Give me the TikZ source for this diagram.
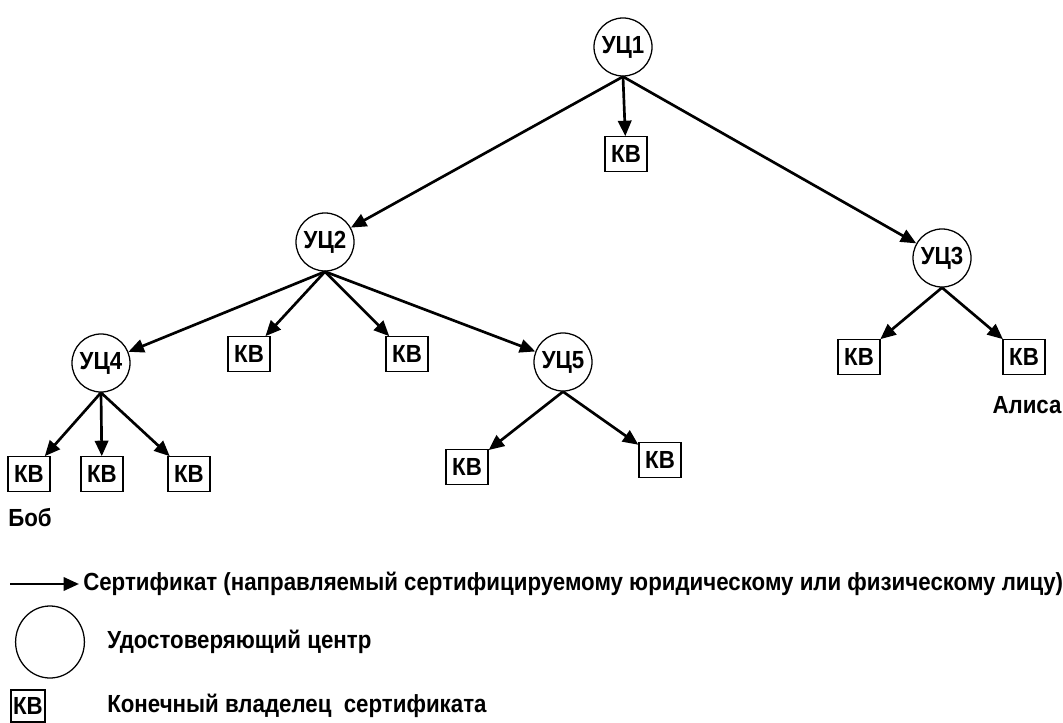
\documentclass[tikz,border=0pt]{standalone}
\usepackage{fontspec}
\setmainfont{Liberation Sans}[FakeStretch=0.9]
\usetikzlibrary{arrows.meta,shapes.geometric}
\begin{document}
\begin{tikzpicture}[x=0.025cm,y=-0.025cm,
  txt/.style={font=\fontsize{17.6}{20}\selectfont\bfseries},
  uc/.style={circle,draw,line width=0.9pt,minimum size=1.45cm,inner sep=0pt,txt},
  kb/.style={rectangle,draw,line width=0.9pt,minimum width=1.05cm,minimum height=0.86cm,inner sep=0pt,txt},
  arr/.style={line width=1.9pt,-{Triangle[length=11pt,width=9.5pt]}},
  lbl/.style={txt,inner sep=0pt},
  leg/.style={txt,anchor=west,inner sep=0pt}]
\useasboundingbox (0,0) rectangle (1063,722);
% nodes
\node[uc] (uc1) at (623,47) {УЦ1};
\node[kb] (kb0) at (626,154) {КВ};
\node[uc] (uc2) at (325,242) {УЦ2};
\node[uc] (uc3) at (942,258) {УЦ3};
\node[uc] (uc4) at (101,363) {УЦ4};
\node[kb] (kb21) at (249,354) {КВ};
\node[kb] (kb22) at (407,354) {КВ};
\node[uc] (uc5) at (563,362) {УЦ5};
\node[kb] (kb41) at (29,474) {КВ};
\node[kb] (kb42) at (102,474) {КВ};
\node[kb] (kb43) at (189,474) {КВ};
\node[kb] (kb51) at (467,467) {КВ};
\node[kb] (kb52) at (660,460) {КВ};
\node[kb] (kb31) at (859,357) {КВ};
\node[kb] (kb32) at (1024,357) {КВ};
\node[lbl] (bob) at (30,518) {Боб};
\node[lbl] (alice) at (1027,405) {Алиса};
% edges
\draw[arr] (uc1.south) -- (kb0);
\draw[arr] (uc1.south) -- (uc2);
\draw[arr] (uc1.south) -- (uc3);
\draw[arr] (uc2.south) -- (uc4);
\draw[arr] (uc2.south) -- (kb21);
\draw[arr] (uc2.south) -- (kb22);
\draw[arr] (uc2.south) -- (uc5);
\draw[arr] (uc4.south) -- (kb41);
\draw[arr] (uc4.south) -- (kb42);
\draw[arr] (uc4.south) -- (kb43);
\draw[arr] (uc5.south) -- (kb51);
\draw[arr] (uc5.south) -- (kb52);
\draw[arr] (uc3.south) -- (kb31);
\draw[arr] (uc3.south) -- (kb32);
% legend
\coordinate (la) at (10,584);
\coordinate (lb) at (79,584);
\draw[arr] (la) -- (lb);
\node[leg] (lt1) at (83,584) {Сертификат (направляемый сертифицируемому юридическому или физическому лицу)};
\node[ellipse,draw,line width=0.9pt,minimum width=1.72cm,minimum height=1.8cm,inner sep=0pt] (lc) at (50,642) {};
\node[leg] (lt2) at (107,642) {Удостоверяющий центр};
\node[kb,minimum width=0.85cm,minimum height=0.8cm] (lk) at (28,706) {КВ};
\node[leg] (lt3) at (107,706) {Конечный владелец\ \ сертификата};
\end{tikzpicture}
\end{document}
